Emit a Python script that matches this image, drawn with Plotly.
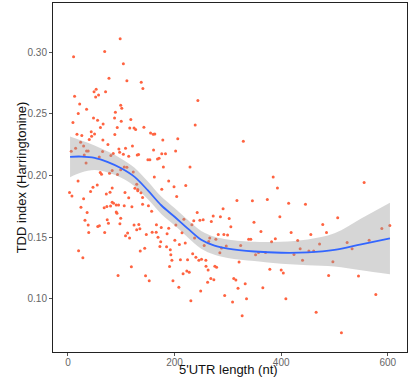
import plotly.graph_objects as go

# scatter data: 5'UTR length (nt) vs TDD index
utr_len = [
    98, 10.6, 69, 104, 77, 110.6, 137.5, 140.6, 53, 49, 57.5, 70.6, 52, 12.5, 22, 99, 101, 35, 89, 19.4,
    48, 87.5, 55.6, 118, 100, 9.4, 66, 61, 92.5, 116, 124, 127, 142.5, 17, 26, 43.7, 50, 44.4, 40, 88,
    155, 160, 163, 178, 65.6, 23.8, 75, 29.4, 14.4, 6.2, 35, 38, 95.6, 108, 121, 65, 97, 85, 30.6, 104,
    114, 130, 132.5, 80.6, 58.7, 160.6, 176, 183, 150, 153.7, 168, 171, 34, 179, 105.6, 110.6, 99, 60.6,
    63, 78, 83, 93, 122.5, 162, 189, 19, 55, 47, 83, 129, 125.6, 131, 176, 199,
    243.7, 238.7, 206, 329, 202, 229, 385, 221, 393,
    555.6,
    3, 7.5, 42.5, 29.4, 72, 79, 107, 114, 131, 137, 140, 24.4, 68, 73, 80, 83, 85.6, 90.6, 95, 105.6,
    120, 140, 151, 36, 90.6, 92, 157, 32, 73.7, 99, 76, 97.5, 38, 56, 59, 124, 133, 129, 135, 166,
    175, 189, 39, 69, 112, 108, 115.6, 147, 158, 165.6, 186, 169, 174, 172.5, 185, 144, 192, 135.6, 20, 193,
    28, 195, 190.6, 119, 94, 145.6, 152.5, 197,
    204, 317, 346, 374, 414, 291, 242.5, 272.5, 286, 302.5, 397.5, 217.5, 236, 247.5, 253.7, 269, 349, 202.5,
    232.5, 305.6, 214, 282, 292.5, 299.4, 362, 237.5, 266, 277.5, 339, 343, 389, 382, 200.6, 220, 209, 264,
    255.6, 297, 324, 288, 285, 357.5, 352, 370.6, 234, 240, 245.6, 250.6, 258.7, 211, 224.4, 321, 259, 275.6,
    278.8, 263, 378.7, 400, 404, 223, 227.5, 216, 268, 273.7, 311, 315, 262, 332.5, 208, 319, 365.6, 249,
    294, 335, 408.8, 230.6, 308.8, 326.8,
    445.6, 506, 478, 418.7, 455.6, 485, 588.8, 603.8, 431, 472, 523.7, 565, 435.6, 452, 461, 533, 424, 440,
    497, 489, 545, 577.5, 465.6, 513,
]
tdd_index = [
    0.311, 0.2965, 0.3006, 0.2908, 0.279, 0.277, 0.2757, 0.2706, 0.270, 0.268, 0.2654, 0.268, 0.2638, 0.2644,
    0.258, 0.257, 0.2546, 0.2538, 0.2514, 0.2503, 0.2468, 0.2468, 0.2449, 0.2455, 0.2441, 0.243, 0.2419,
    0.239, 0.239, 0.2387, 0.2387, 0.2374, 0.2393, 0.2336, 0.2325, 0.2355, 0.2338, 0.232, 0.2293, 0.2333,
    0.2346, 0.2336, 0.2338, 0.229, 0.229, 0.2271, 0.2252, 0.2241, 0.2222, 0.2198, 0.22, 0.22, 0.2217, 0.2222,
    0.2241, 0.2196, 0.219, 0.218, 0.2168, 0.2174, 0.2158, 0.2168, 0.2171, 0.2163, 0.2152, 0.2209, 0.2177,
    0.2177, 0.2128, 0.2128, 0.2136, 0.2141, 0.2103, 0.2071, 0.2071, 0.2068, 0.2047, 0.2025, 0.2012, 0.202,
    0.2042, 0.2009, 0.203, 0.199, 0.1957, 0.1957, 0.1925, 0.1906, 0.19, 0.193, 0.1898, 0.1888, 0.189, 0.1909,
    0.2609, 0.2411, 0.230, 0.2278, 0.220, 0.2071, 0.199, 0.192, 0.190,
    0.1944,
    0.1864, 0.1834, 0.1872, 0.1812, 0.1852, 0.1866, 0.1864, 0.182, 0.1877, 0.1861, 0.1823, 0.1744, 0.1739,
    0.175, 0.1753, 0.1785, 0.1777, 0.1763, 0.1761, 0.1755, 0.1747, 0.1769, 0.1755, 0.1701, 0.1706, 0.1696,
    0.1712, 0.1639, 0.1642, 0.1655, 0.1615, 0.1609, 0.1599, 0.1588, 0.1593, 0.1599, 0.1604, 0.1561, 0.1569,
    0.1601, 0.158, 0.1574, 0.154, 0.154, 0.1534, 0.1512, 0.1494, 0.1523, 0.1542, 0.1542, 0.1528, 0.1501,
    0.1464, 0.1426, 0.1423, 0.1412, 0.1399, 0.1388, 0.1391, 0.1358, 0.1334, 0.1313, 0.1264, 0.1261, 0.1191,
    0.1188, 0.1148, 0.1148,
    0.1831, 0.1798, 0.1796, 0.1807, 0.1777, 0.1731, 0.1702, 0.1672, 0.1666, 0.1653, 0.1666, 0.1647, 0.1634,
    0.1639, 0.1642, 0.1629, 0.1623, 0.1599, 0.1601, 0.1585, 0.1536, 0.1523, 0.1523, 0.1518, 0.1548, 0.1494,
    0.1494, 0.1485, 0.1485, 0.1485, 0.1488, 0.1464, 0.1477, 0.1453, 0.1442, 0.1467, 0.1434, 0.1429, 0.1434,
    0.1414, 0.1374, 0.1377, 0.1358, 0.1377, 0.1366, 0.1339, 0.1313, 0.1323, 0.1313, 0.1318, 0.1318, 0.1299,
    0.1266, 0.1266, 0.1258, 0.1234, 0.124, 0.1234, 0.121, 0.1226, 0.1216, 0.1204, 0.1167, 0.1156, 0.1167,
    0.1153, 0.1135, 0.1123, 0.1096, 0.1086, 0.1091, 0.1064, 0.1029, 0.1001, 0.1001, 0.0985, 0.0975, 0.0864,
    0.1769, 0.1658, 0.1604, 0.154, 0.1523, 0.154, 0.1572, 0.1596, 0.1475, 0.1445, 0.1458, 0.1477, 0.1407,
    0.1388, 0.1388, 0.1407, 0.1361, 0.1315, 0.1301, 0.1191, 0.1186, 0.1037, 0.0892, 0.0726,
]
assert len(utr_len) == len(tdd_index), (len(utr_len), len(tdd_index))

# loess smooth fit and its standard error band
smooth_x = [4, 25, 50, 75, 100, 125, 150, 175, 200, 225, 250, 275, 300, 350, 400, 450, 500, 550, 604]
smooth_y = [0.2153, 0.2155, 0.2145, 0.211, 0.206, 0.199, 0.188, 0.176, 0.1667, 0.157, 0.148, 0.1432,
            0.1408, 0.1385, 0.1375, 0.1378, 0.1398, 0.1443, 0.1491]
smooth_se = [0.0165, 0.013, 0.010, 0.0085, 0.0078, 0.0075, 0.0072, 0.007, 0.007, 0.0071, 0.0072, 0.0073,
             0.0075, 0.0078, 0.009, 0.0105, 0.0135, 0.021, 0.029]

x_ticks = [0, 200, 400, 600]
y_ticks = [0.10, 0.15, 0.20, 0.25, 0.30]
y_tick_text = ["0.10", "0.15", "0.20", "0.25", "0.30"]

lower = [m - s for m, s in zip(smooth_y, smooth_se)]
upper = [m + s for m, s in zip(smooth_y, smooth_se)]

fig = go.Figure()
fig.add_trace(go.Scatter(x=utr_len, y=tdd_index, mode="markers",
                         marker=dict(color="#FF6340", size=3, line=dict(width=0)),
                         hoverinfo="skip", showlegend=False))
fig.add_trace(go.Scatter(x=smooth_x, y=lower, mode="lines", line=dict(width=0, shape="spline"),
                         hoverinfo="skip", showlegend=False))
fig.add_trace(go.Scatter(x=smooth_x, y=upper, mode="lines", line=dict(width=0, shape="spline"),
                         fill="tonexty", fillcolor="rgba(153,153,153,0.4)",
                         hoverinfo="skip", showlegend=False))
fig.add_trace(go.Scatter(x=smooth_x, y=smooth_y, mode="lines",
                         line=dict(color="#3366FF", width=1.8, shape="spline"),
                         hoverinfo="skip", showlegend=False))

axis_common = dict(showgrid=False, zeroline=False, showline=True, linecolor="#222222", linewidth=1,
                   mirror=True, ticks="outside", ticklen=3, tickcolor="#555555", tickwidth=1,
                   tickfont=dict(family="Liberation Sans, Arial, sans-serif", size=10, color="#666666"),
                   automargin=False)

fig.update_xaxes(range=[-28, 636], tickvals=x_ticks, ticklabelstandoff=-2, **axis_common)
fig.update_yaxes(range=[0.057, 0.340], tickvals=y_ticks, ticktext=y_tick_text, **axis_common)

fig.update_layout(
    width=409, height=378,
    margin=dict(l=53, r=2, t=3, b=26),
    paper_bgcolor="white", plot_bgcolor="white",
    font=dict(family="Liberation Sans, Arial, sans-serif", color="#111111"),
    annotations=[
        dict(text="5'UTR length (nt)", xref="paper", yref="paper", x=0.495, y=-0.0745,
             xanchor="center", yanchor="bottom", showarrow=False, borderpad=0,
             font=dict(size=13, color="#111111")),
        dict(text="TDD index (Harringtonine)", xref="paper", yref="paper", x=-0.088, y=0.5,
             xanchor="center", yanchor="middle", textangle=-90, showarrow=False,
             font=dict(size=13, color="#111111")),
    ],
)

fig.write_html("out.html")
